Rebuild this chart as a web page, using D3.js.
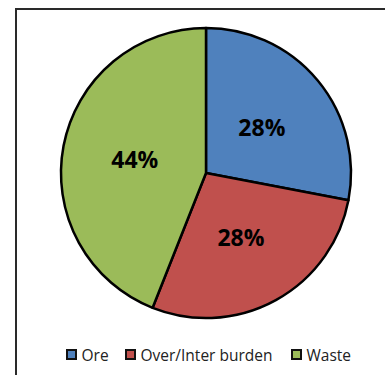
<!DOCTYPE html>
<html>
<head>
<meta charset="utf-8">
<script src="https://cdn.jsdelivr.net/npm/d3@7"></script>
<style>
  html, body { margin: 0; padding: 0; background: #fff; }
  svg { display: block; }
</style>
</head>
<body>
<svg id="chart" width="385" height="375"></svg>
<script>
// Material share by category (percent)
const categories = ["Ore", "Over/Inter burden", "Waste"];
const shares = [28, 28, 44];
const colors = ["#4F81BD", "#C0504D", "#9BBB59"];

const svg = d3.select("#chart");
const W = 385, H = 375;

// chart-area frame (runs off the right and bottom edges)
svg.append("path")
  .attr("d", `M16,${H + 5} L16,9 L${W + 5},9`)
  .attr("fill", "none")
  .attr("stroke", "#2a2a2a")
  .attr("stroke-width", 2);

const cx = 206, cy = 173, r = 145;

const data = categories.map((c, i) => ({ name: c, value: shares[i], color: colors[i] }));

const pie = d3.pie().value(d => d.value).sort(null);
const arc = d3.arc().innerRadius(0).outerRadius(r);

const g = svg.append("g").attr("transform", `translate(${cx},${cy})`);
const arcs = pie(data);

g.selectAll("path.slice")
  .data(arcs)
  .join("path")
  .attr("class", "slice")
  .attr("d", arc)
  .attr("fill", d => d.data.color)
  .attr("stroke", "#000")
  .attr("stroke-width", 2.5)
  .attr("stroke-linejoin", "round");

g.selectAll("text.pct")
  .data(arcs)
  .join("text")
  .attr("class", "pct")
  .attr("transform", d => `translate(${arc.centroid(d)})`)
  .attr("text-anchor", "middle")
  .attr("dominant-baseline", "central")
  .attr("font-family", "'Open Sans', sans-serif")
  .attr("font-weight", "bold")
  .attr("font-size", 23)
  .attr("fill", "#000")
  .text(d => d3.format(".0f")(d.data.value) + "%");

// legend
const legendY = 355;
const legendX = [66, 125, 291];
const lg = svg.append("g");
data.forEach((d, i) => {
  lg.append("rect")
    .attr("x", legendX[i] + 1)
    .attr("y", legendY - 5)
    .attr("width", 9)
    .attr("height", 9)
    .attr("fill", d.color)
    .attr("stroke", "#111")
    .attr("stroke-width", 2);
  lg.append("text")
    .attr("x", legendX[i] + 15.5)
    .attr("y", legendY)
    .attr("dominant-baseline", "central")
    .attr("font-family", "'Open Sans', sans-serif")
    .attr("font-size", 15.5)
    .attr("fill", "#222")
    .text(d.name);
});
</script>
</body>
</html>
